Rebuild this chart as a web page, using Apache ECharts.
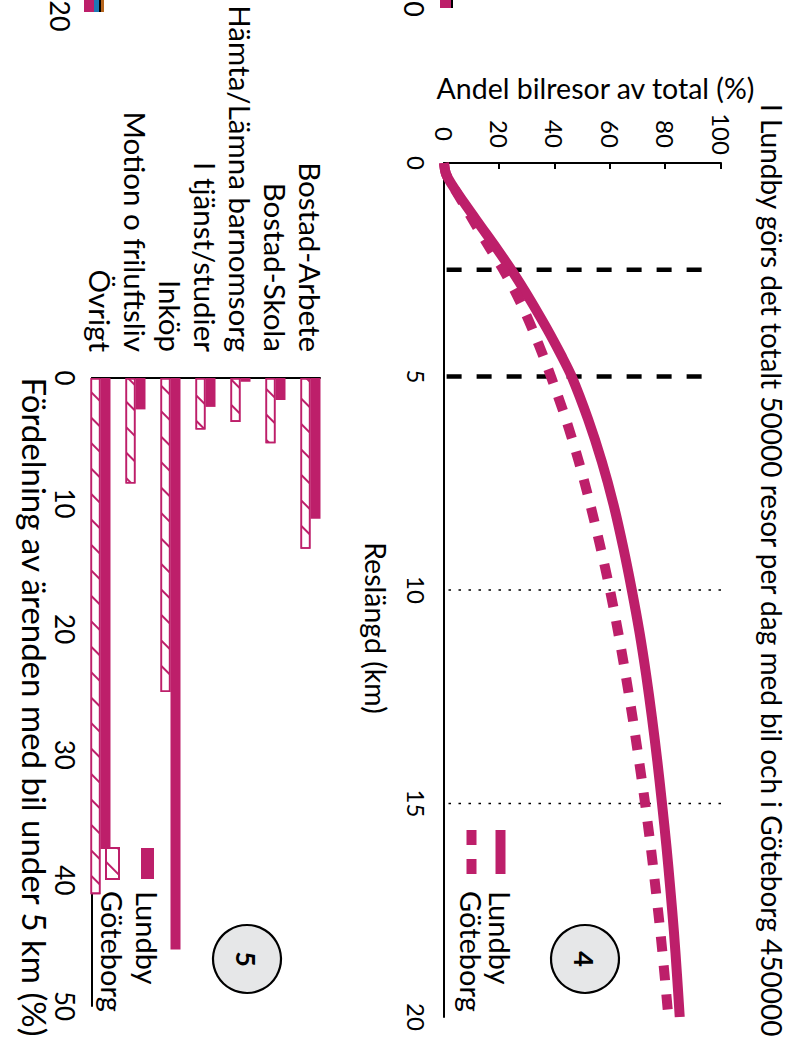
<!DOCTYPE html>
<html><head><meta charset="utf-8">
<script src="https://cdn.jsdelivr.net/npm/echarts@6/dist/echarts.min.js"></script>
<style>
html,body{margin:0;padding:0;background:#fff;overflow:hidden;width:795px;height:1064px;}
#c{position:absolute;left:0;top:0;width:1064px;height:795px;transform-origin:0 0;transform:translate(795px,0) rotate(90deg);}
</style></head><body><div id="c"></div>
<script>
// ---- data ----
const titleText = 'I Lundby görs det totalt 50000 resor per dag med bil och i Göteborg 450000';
const distanceKm   = [0, 0.25, 0.5, 1, 1.5, 2, 2.5, 3, 3.5, 4, 4.5, 5, 6, 7, 8, 9, 10, 11, 12, 13, 14, 15, 16, 17, 18, 19, 20];
const lundbyShare  = [0, 0.7, 2.8, 8, 13.5, 19, 24.3, 29.2, 33.8, 38.2, 42.3, 46.1, 52, 57, 61.2, 64.7, 67.8, 70.6, 73, 75.1, 77, 78.7, 80.3, 81.7, 83, 84.1, 85.1];
const goteborgShare= [0, 0.7, 2.8, 7.4, 11.9, 16.6, 21.4, 25.6, 29.3, 32.6, 35.7, 38.6, 44, 48.7, 52.8, 56.5, 59.9, 62.9, 65.6, 68.1, 70.4, 72.6, 74.6, 76.4, 78.1, 79.6, 81];
const refDashedKm = [2.5, 5];
const refDashedTop = 93;
const refDottedKm = [10, 15];
const refDottedTop = 100;
const purposes = ['Bostad-Arbete', 'Bostad-Skola', 'Hämta/Lämna barnomsorg', 'I tjänst/studier', 'Inköp', 'Motion o friluftsliv', 'Övrigt'];
const lundbyPurpose   = [11.2, 1.75, 0.3, 2.3, 45.5, 2.5, 37.5];
const goteborgPurpose = [13.6, 5.2, 3.5, 4.1, 25.0, 8.4, 41.1];
const cityNames = ['Lundby', 'Göteborg'];
const barSuffix = ' ärenden';

// ---- style ----
const MAG = '#BD1F6A';
const FONT = 'Lato';
const txt = (size, extra) => Object.assign({ fontFamily: FONT, fontSize: size, color: '#000' }, extra || {});

const chart = echarts.init(document.getElementById('c'), null, { renderer: 'svg', width: 1064, height: 795 });

const refSeries = [];
refDashedKm.forEach(k => refSeries.push({
  type: 'line', xAxisIndex: 0, yAxisIndex: 0, silent: true, symbol: 'none', clip: false, z: 1,
  data: [[k, refDashedTop], [k, 0]],
  lineStyle: { color: '#000', width: 4.5, type: [15, 15] }
}));
refDottedKm.forEach(k => refSeries.push({
  type: 'line', xAxisIndex: 0, yAxisIndex: 0, silent: true, symbol: 'none', clip: false, z: 1,
  data: [[k, refDottedTop], [k, 0]],
  lineStyle: { color: '#000', width: 1.3, type: [2.5, 7.5] }
}));

const option = {
  backgroundColor: '#fff',
  animation: false,
  title: { text: titleText, left: 104, top: 9, padding: 0, textStyle: txt(28, { fontWeight: 'normal' }) },
  legend: [
    { data: [
        { name: cityNames[0], icon: 'path://M0 0h44v10h-44z' },
        { name: cityNames[1], icon: 'path://M0 0h15v10h-15z M29 0h15v10h-15z' }
      ],
      orient: 'vertical', left: 825, top: 275, itemWidth: 44, itemHeight: 10, itemGap: 0,
      itemStyle: { color: MAG, borderWidth: 0 },
      textStyle: txt(29, { lineHeight: 25, padding: [0, 0, 0, 12] }) },
    { data: cityNames.map(n => n + barSuffix), orient: 'vertical', left: 842, top: 628, itemWidth: 31, itemHeight: 13, itemGap: 6,
      icon: 'rect', formatter: n => n.replace(barSuffix, ''),
      textStyle: txt(29, { lineHeight: 26, padding: [0, 0, 0, 7] }) }
  ],
  grid: [
    { left: 163, top: 74, width: 854, height: 277, outerBoundsMode: 'none' },
    { left: 378, top: 467, width: 628, height: 245, outerBoundsMode: 'none' },
    { left: 378, top: 475, width: 628, height: 228, outerBoundsMode: 'none' }
  ],
  xAxis: [
    { gridIndex: 0, type: 'value', min: 0, max: 20, interval: 5,
      name: 'Reslängd (km)', nameLocation: 'middle', nameGap: 54,
      nameTextStyle: txt(28.5, { padding: [0, 0, 0, 76] }),
      axisLine: { show: true, onZero: false, lineStyle: { color: '#000', width: 2 } },
      axisTick: { show: false }, splitLine: { show: false },
      axisLabel: txt(24, { margin: 16 }) },
    { gridIndex: 1, type: 'value', min: 0, max: 50, show: false, splitLine: { show: false } },
    { gridIndex: 2, type: 'value', min: 0, max: 50, interval: 10,
      name: 'Fördelning av ärenden med bil under 5 km (%)', nameLocation: 'middle', nameGap: 40,
      nameTextStyle: txt(33, { padding: [0, 0, 0, 30] }),
      axisLine: { show: true, onZero: false, lineStyle: { color: '#000', width: 2 } },
      axisTick: { show: false }, splitLine: { show: false },
      axisLabel: txt(26, { margin: 14 }) }
  ],
  yAxis: [
    { gridIndex: 0, type: 'value', min: 0, max: 100, interval: 20,
      name: 'Andel bilresor av total (%)', nameLocation: 'middle', nameGap: 60, nameRotate: 90,
      nameTextStyle: txt(28.5, { padding: [0, 0, 0, 26] }),
      axisLine: { show: true, onZero: false, lineStyle: { color: '#000', width: 2 } },
      axisTick: { show: true, inside: true, length: 6, lineStyle: { color: '#000', width: 2 } },
      splitLine: { show: false },
      axisLabel: txt(24, { margin: 29, align: 'center' }) },
    { gridIndex: 1, type: 'category', data: purposes, inverse: true,
      axisLine: { show: false }, axisTick: { show: false },
      axisLabel: txt(29.5, { margin: 26, interval: 0 }) },
    { gridIndex: 2, type: 'category', data: purposes, inverse: true,
      axisLine: { show: true, onZero: false, lineStyle: { color: '#000', width: 2 } },
      axisTick: { show: false }, axisLabel: { show: false } }
  ],
  series: refSeries.concat([
    { name: cityNames[0], type: 'line', xAxisIndex: 0, yAxisIndex: 0, symbol: 'none', clip: false, z: 3,
      smooth: 0.3,
      data: distanceKm.map((k, i) => [k, lundbyShare[i]]),
      lineStyle: { color: MAG, width: 10, cap: 'butt' }, itemStyle: { color: MAG } },
    { name: cityNames[1], type: 'line', xAxisIndex: 0, yAxisIndex: 0, symbol: 'none', clip: false, z: 3,
      smooth: 0.3,
      data: distanceKm.map((k, i) => [k, goteborgShare[i]]),
      lineStyle: { color: MAG, width: 10, type: [15, 14], cap: 'butt' }, itemStyle: { color: MAG } },
    { name: cityNames[0] + barSuffix, type: 'bar', xAxisIndex: 1, yAxisIndex: 1,
      data: lundbyPurpose, barWidth: 10, barGap: '0%',
      itemStyle: { color: MAG } },
    { name: cityNames[1] + barSuffix, type: 'bar', xAxisIndex: 1, yAxisIndex: 1,
      data: goteborgPurpose, barWidth: 10, barGap: '0%',
      itemStyle: { color: '#fff', borderColor: MAG, borderWidth: 1.6,
        decal: { symbol: 'rect', symbolSize: 1, color: MAG, dashArrayX: [1, 0], dashArrayY: [1.4, 15.5], rotation: -Math.PI / 4 } } }
  ]),
  graphic: [
    { type: 'circle', shape: { cx: 959, cy: 210, r: 34 }, style: { fill: '#E6E7E8', stroke: '#000', lineWidth: 2.2 }, z: 10 },
    { type: 'text', x: 959, y: 211, style: { text: '4', fontFamily: FONT, fontSize: 27, fontWeight: 'bold', fill: '#000', align: 'center', verticalAlign: 'middle' }, z: 11 },
    { type: 'circle', shape: { cx: 959, cy: 548, r: 34 }, style: { fill: '#E6E7E8', stroke: '#000', lineWidth: 2.2 }, z: 10 },
    { type: 'text', x: 959, y: 549, style: { text: '5', fontFamily: FONT, fontSize: 27, fontWeight: 'bold', fill: '#000', align: 'center', verticalAlign: 'middle' }, z: 11 },
    // remnants of the neighbouring chart at the page edge
    { type: 'text', x: 16, y: 735, style: { text: '20', fontFamily: FONT, fontSize: 27, fill: '#000', align: 'center', verticalAlign: 'middle' } },
    { type: 'text', x: 9, y: 381, style: { text: '0', fontFamily: FONT, fontSize: 27, fill: '#000', align: 'center', verticalAlign: 'middle' } },
    { type: 'rect', shape: { x: 0, y: 691, width: 12, height: 3 }, style: { fill: '#B5651D' } },
    { type: 'rect', shape: { x: 0, y: 694, width: 12, height: 2 }, style: { fill: '#000' } },
    { type: 'rect', shape: { x: 0, y: 696, width: 12, height: 5 }, style: { fill: '#1F78B4' } },
    { type: 'rect', shape: { x: 0, y: 701, width: 12, height: 10 }, style: { fill: MAG } },
    { type: 'rect', shape: { x: 0, y: 342, width: 8, height: 2 }, style: { fill: '#000' } },
    { type: 'rect', shape: { x: 0, y: 344, width: 8, height: 11 }, style: { fill: MAG } }
  ]
};
chart.setOption(option);
</script></body></html>
